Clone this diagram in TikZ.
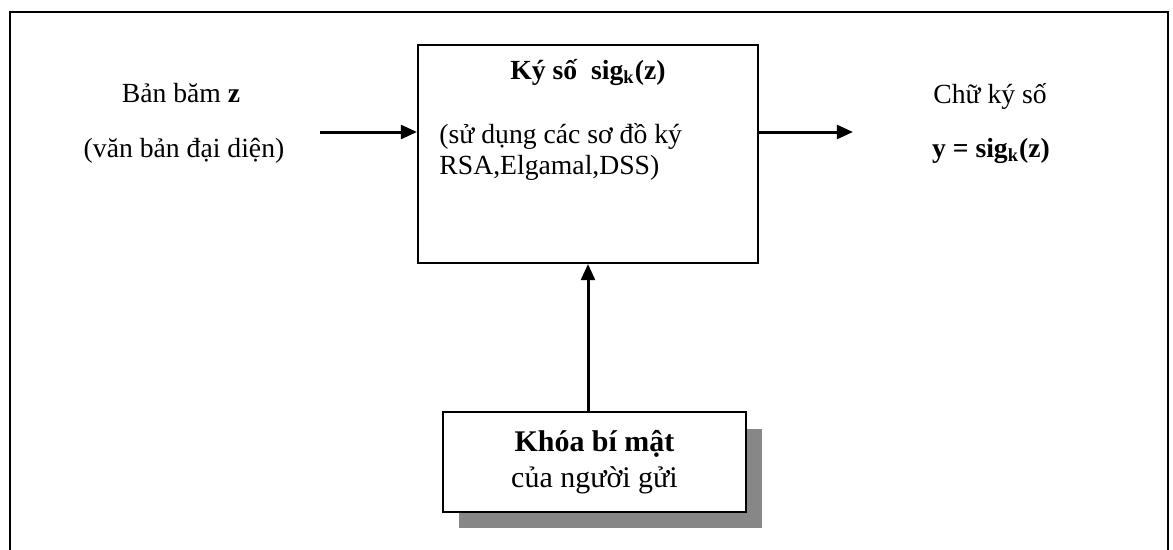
\documentclass[tikz,border=0pt]{standalone}
\usepackage{fontspec}
\setmainfont{Liberation Serif}
\usetikzlibrary{arrows.meta,calc,positioning,shadows}

\begin{document}
\begin{tikzpicture}[>={Triangle[length=7pt,width=6pt]},x=0.1524mm,y=-0.1524mm,
  txt/.style={font=\fontsize{12}{14.4}\selectfont,inner sep=0pt},
  blk/.style={draw,line width=0.9pt,fill=white},
  flow/.style={->,line width=1.3pt}]
\useasboundingbox (0,0) rectangle (1173,549);
% frame round the scheme, open at the bottom
\draw[line width=1pt] (10,560)--(10,12)--(1168,12)--(1168,560);
% signing block
\node[blk,minimum width=51.8mm,minimum height=33.2mm] (sign) at (588,154) {};
\node[txt,anchor=base] (title) at (588,79) {\bfseries Ký số\ \ sig\textsubscript{k}(z)};
\node[txt,anchor=base west] (use1) at (439,143) {(sử dụng các sơ đồ ký};
\node[txt,anchor=base west] (use2) at (439,174) {RSA,Elgamal,DSS)};
% input and output
\node[txt,anchor=base] (hash) at (181,102) {Bản băm \textbf{z}};
\node[txt,anchor=base] (doc) at (184,157) {(văn bản đại diện)};
\node[txt,anchor=base] (sig) at (990,103) {Chữ ký số};
\node[txt,anchor=base] (res) at (991,157) {\bfseries y = sig\textsubscript{k}(z)};
\coordinate (in) at (320,132);\coordinate (out) at (853,132);
\draw[flow] (in)--(in -| sign.west);
\draw[flow] (out -| sign.east)--(out);
% private key of the sender
\node[blk,drop shadow={shadow xshift=2.44mm,shadow yshift=-2.5mm,fill=black!47,opacity=1},
  minimum width=46.2mm,minimum height=15.2mm,align=center,
  font=\fontsize{13}{15.6}\selectfont] (key) at (594.5,462) {\textbf{Khóa bí mật}\\của người gửi};
\draw[flow] (key.north -| sign.south)--(sign.south);
\end{tikzpicture}
\end{document}
